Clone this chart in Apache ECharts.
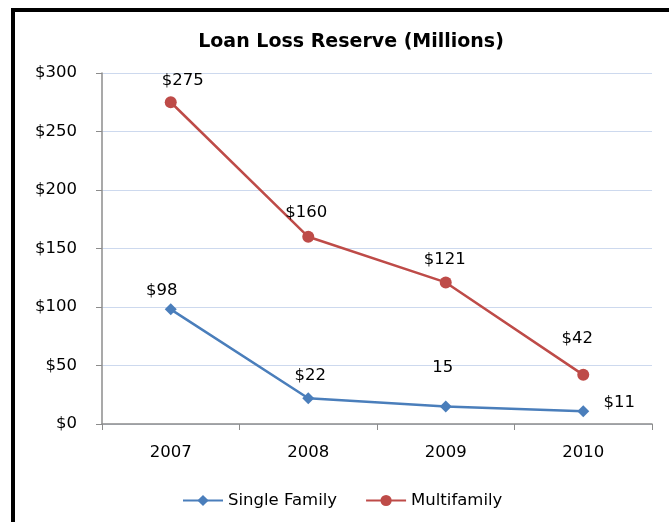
<!DOCTYPE html>
<html>
<head>
<meta charset="utf-8">
<script src="https://cdn.jsdelivr.net/npm/echarts@6/dist/echarts.min.js"></script>
<style>
html,body{margin:0;padding:0;background:#fff;overflow:hidden;}
#chart{width:669px;height:522px;}
</style>
</head>
<body>
<div id="chart"></div>
<script>
const categories = ['2007', '2008', '2009', '2010'];
const singleFamily = [98, 22, 15, 11];
const multifamily = [275, 160, 121, 42];
const singleFamilyLabels = ['$98', '$22', '15', '$11'];
const multifamilyLabels = ['$275', '$160', '$121', '$42'];
const yTickLabels = ['$0', '$50', '$100', '$150', '$200', '$250', '$300'];

const FONT = '"DejaVu Sans"';
const FS = 16.5;
const sfOffsets = [[-9, -19], [2, -23], [-3, -39], [36, -8]];
const mfOffsets = [[12, -22], [-2, -24], [-1, -23], [-6, -36]];

function buildData(values, labels, offsets) {
  return values.map((v, i) => ({
    value: v,
    label: { formatter: labels[i], offset: offsets[i] }
  }));
}

const chart = echarts.init(document.getElementById('chart'), null, { renderer: 'canvas' });
chart.setOption({
  animation: false,
  backgroundColor: '#fff',
  textStyle: { fontFamily: FONT },
  title: {
    text: 'Loan Loss Reserve (Millions)',
    left: 346, top: 28, textAlign: 'center',
    textStyle: { fontFamily: FONT, fontWeight: 'bold', fontSize: 19, color: '#000' }
  },
  graphic: [{
    type: 'rect',
    shape: { x: 13, y: 10, width: 800, height: 700 },
    style: { fill: 'none', stroke: '#000', lineWidth: 4 },
    silent: true
  }],
  legend: {
    top: 487, left: 177, itemGap: 28, itemWidth: 40, itemHeight: 14,
    textStyle: { fontFamily: FONT, fontSize: FS, color: '#000' },
    data: ['Single Family', 'Multifamily']
  },
  grid: { left: 102, right: 17, top: 73, bottom: 98 },
  xAxis: {
    type: 'category', data: categories, boundaryGap: true,
    axisLine: { lineStyle: { color: '#8c8c8c', width: 1.5 } },
    axisTick: { show: true, length: 6, lineStyle: { color: '#8c8c8c' } },
    axisLabel: { fontFamily: FONT, fontSize: FS, color: '#000', margin: 20 }
  },
  yAxis: {
    type: 'value', min: 0, max: 300, interval: 50,
    axisLine: { show: true, lineStyle: { color: '#8c8c8c', width: 1.5 } },
    axisTick: { show: true, length: 6, lineStyle: { color: '#8c8c8c' } },
    splitLine: { lineStyle: { color: '#cdd9ee', width: 1 } },
    axisLabel: {
      fontFamily: FONT, fontSize: FS, color: '#000', margin: 25,
      formatter: (v) => yTickLabels[Math.round(v / 50)]
    }
  },
  series: [
    {
      name: 'Single Family', type: 'line',
      data: buildData(singleFamily, singleFamilyLabels, sfOffsets),
      symbol: 'diamond', symbolSize: 12,
      itemStyle: { color: '#4a7ebb' },
      lineStyle: { color: '#4a7ebb', width: 2.5 },
      label: { show: true, position: 'inside', fontFamily: FONT, fontSize: FS, color: '#000' }
    },
    {
      name: 'Multifamily', type: 'line',
      data: buildData(multifamily, multifamilyLabels, mfOffsets),
      symbol: 'circle', symbolSize: 12,
      itemStyle: { color: '#be4b48' },
      lineStyle: { color: '#be4b48', width: 2.5 },
      label: { show: true, position: 'inside', fontFamily: FONT, fontSize: FS, color: '#000' }
    }
  ]
});
</script>
</body>
</html>
